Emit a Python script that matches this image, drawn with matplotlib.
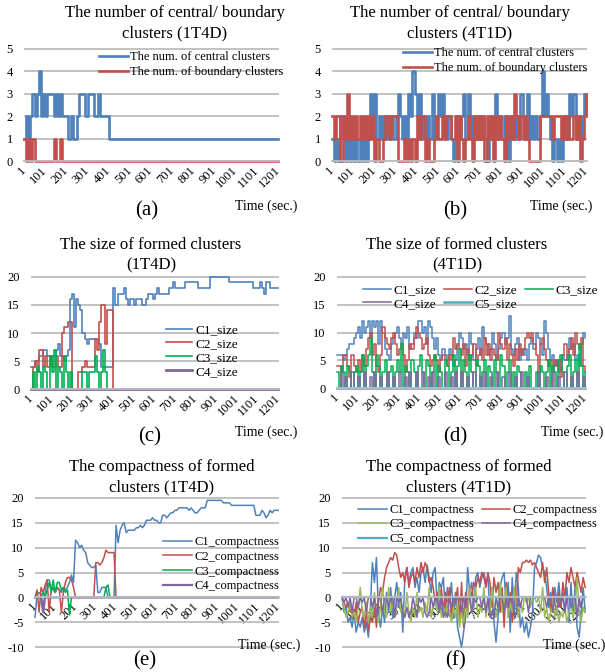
import matplotlib
matplotlib.use('Agg')
import matplotlib.pyplot as plt

plt.rcParams['font.family'] = ['Liberation Serif', 'DejaVu Serif']
plt.rcParams['axes.unicode_minus'] = False

W, H = 605, 672
# time categories (seconds), sampled every 10 s
T = list(range(1, 1202, 10))
XTICKS = [1, 101, 201, 301, 401, 501, 601, 701, 801, 901, 1001, 1101, 1201]
XTICKLABELS = ['1', '101', '201', '301', '401', '501', '601', '701', '801', '901', '1001', '1101', '1201']

# ---------------- (a) 1T4D number of clusters ----------------
central_a = [1, 2, 1, 2, 3, 2, 3, 4, 2, 3,
             2, 3, 3, 3, 2, 3, 2, 3, 2, 2,
             2, 1, 2, 1, 1, 2, 3, 3, 3, 2,
             3, 3, 3, 2, 2, 3, 2, 2, 2, 2,
             1, 1, 1, 1, 1, 1, 1, 1, 1, 1,
             1, 1, 1, 1, 1, 1, 1, 1, 1, 1,
             1, 1, 1, 1, 1, 1, 1, 1, 1, 1,
             1, 1, 1, 1, 1, 1, 1, 1, 1, 1,
             1, 1, 1, 1, 1, 1, 1, 1, 1, 1,
             1, 1, 1, 1, 1, 1, 1, 1, 1, 1,
             1, 1, 1, 1, 1, 1, 1, 1, 1, 1,
             1, 1, 1, 1, 1, 1, 1, 1, 1, 1,
             1]
boundary_a = [1, 0, 1, 0, 1, 0, 0, 0, 0, 0,
              0, 0, 0, 0, 1, 0, 0, 1, 0, 0,
              0, 0, 0, 0, 0, 0, 0, 0, 0, 0,
              0, 0, 0, 0, 0, 0, 0, 0, 0, 0,
              0, 0, 0, 0, 0, 0, 0, 0, 0, 0,
              0, 0, 0, 0, 0, 0, 0, 0, 0, 0,
              0, 0, 0, 0, 0, 0, 0, 0, 0, 0,
              0, 0, 0, 0, 0, 0, 0, 0, 0, 0,
              0, 0, 0, 0, 0, 0, 0, 0, 0, 0,
              0, 0, 0, 0, 0, 0, 0, 0, 0, 0,
              0, 0, 0, 0, 0, 0, 0, 0, 0, 0,
              0, 0, 0, 0, 0, 0, 0, 0, 0, 0,
              0]

# ---------------- (b) 4T1D number of clusters ----------------
central_b = [1, 0, 1, 0, 2, 1, 0, 1, 0, 1,
             0, 1, 0, 1, 0, 1, 0, 1, 3, 2,
             3, 1, 2, 1, 2, 1, 2, 1, 2, 1,
             2, 3, 2, 1, 2, 1, 3, 2, 4, 3,
             2, 3, 1, 2, 1, 2, 1, 3, 1, 2,
             3, 2, 3, 2, 1, 2, 1, 0, 1, 2,
             1, 2, 3, 1, 3, 2, 1, 2, 1, 2,
             1, 2, 1, 0, 1, 2, 1, 3, 1, 2,
             1, 2, 1, 0, 1, 2, 1, 2, 1, 3,
             2, 1, 3, 1, 2, 1, 2, 1, 2, 4,
             2, 3, 2, 1, 0, 1, 0, 1, 0, 1,
             2, 1, 3, 2, 3, 1, 2, 1, 2, 3,
             2]
boundary_b = [2, 1, 2, 2, 0, 2, 1, 3, 1, 2,
              1, 2, 1, 2, 1, 2, 1, 2, 1, 2,
              0, 1, 0, 0, 1, 2, 2, 1, 2, 2,
              2, 0, 0, 0, 1, 0, 1, 0, 1, 0,
              2, 1, 2, 2, 0, 1, 0, 0, 1, 2,
              1, 1, 2, 1, 2, 2, 1, 1, 2, 0,
              2, 1, 0, 1, 2, 1, 0, 2, 1, 2,
              1, 2, 0, 2, 1, 2, 0, 2, 1, 2,
              1, 0, 2, 1, 2, 1, 3, 2, 1, 2,
              1, 2, 1, 0, 0, 0, 0, 0, 2, 2,
              2, 2, 2, 2, 1, 2, 2, 2, 1, 2,
              1, 2, 1, 1, 2, 1, 2, 0, 1, 2,
              3]

# ---------------- (c) 1T4D cluster size ----------------
c1_size_c = [4, 4, 5, 5, 6, 6, 7, 7, 6, 5,
             6, 6, 7, 8, 6, 6, 5, 6, 7, 16,
             17, 11, 16, 15, 14, 10, 9, 8, 9, 9,
             9, 9, 9, 8, 4, 4, 4, 4, 4, 4,
             18, 15, 17, 17, 17, 18, 16, 15, 16, 16,
             15, 16, 16, 16, 15, 15, 16, 17, 17, 16,
             17, 18, 17, 17, 17, 17, 17, 18, 18, 19,
             18, 18, 18, 18, 18, 19, 19, 19, 19, 19,
             19, 18, 18, 18, 18, 18, 18, 20, 20, 20,
             20, 20, 20, 20, 20, 20, 19, 19, 19, 19,
             19, 19, 19, 19, 19, 19, 19, 19, 18, 18,
             18, 19, 18, 17, 19, 19, 18, 18, 18, 18,
             18]
c2_size_c = [0, 4, 5, 3, 7, 7, 4, 6, 4, 6,
             4, 4, 6, 4, 4, 10, 11, 11, 12, 12,
             0, 0, 0, 3, 3, 4, 5, 4, 4, 4,
             4, 9, 7, 12, 15, 15, 8, 14, 14, 14,
             0, 0, 0, 0, 0, 0, 0, 0, 0, 0,
             0, 0, 0, 0, 0, 0, 0, 0, 0, 0,
             0, 0, 0, 0, 0, 0, 0, 0, 0, 0,
             0, 0, 0, 0, 0, 0, 0, 0, 0, 0,
             0, 0, 0, 0, 0, 0, 0, 0, 0, 0,
             0, 0, 0, 0, 0, 0, 0, 0, 0, 0,
             0, 0, 0, 0, 0, 0, 0, 0, 0, 0,
             0, 0, 0, 0, 0, 0, 0, 0, 0, 0,
             0]
c3_size_c = [0, 3, 0, 4, 3, 0, 4, 3, 0, 6,
             3, 7, 0, 4, 3, 0, 6, 3, 0, 3,
             0, 0, 0, 0, 0, 3, 3, 0, 3, 3,
             3, 6, 3, 0, 3, 7, 3, 0, 0, 0,
             0, 0, 0, 0, 0, 0, 0, 0, 0, 0,
             0, 0, 0, 0, 0, 0, 0, 0, 0, 0,
             0, 0, 0, 0, 0, 0, 0, 0, 0, 0,
             0, 0, 0, 0, 0, 0, 0, 0, 0, 0,
             0, 0, 0, 0, 0, 0, 0, 0, 0, 0,
             0, 0, 0, 0, 0, 0, 0, 0, 0, 0,
             0, 0, 0, 0, 0, 0, 0, 0, 0, 0,
             0, 0, 0, 0, 0, 0, 0, 0, 0, 0,
             0]
c4_size_c = [0, 0, 0, 0, 0, 0, 0, 0, 0, 0,
             0, 0, 0, 0, 0, 0, 0, 0, 0, 0,
             0, 0, 0, 0, 0, 0, 0, 0, 0, 0,
             0, 0, 0, 0, 0, 0, 0, 0, 0, 0,
             0, 0, 0, 0, 0, 0, 0, 0, 0, 0,
             0, 0, 0, 0, 0, 0, 0, 0, 0, 0,
             0, 0, 0, 0, 0, 0, 0, 0, 0, 0,
             0, 0, 0, 0, 0, 0, 0, 0, 0, 0,
             0, 0, 0, 0, 0, 0, 0, 0, 0, 0,
             0, 0, 0, 0, 0, 0, 0, 0, 0, 0,
             0, 0, 0, 0, 0, 0, 0, 0, 0, 0,
             0, 0, 0, 0, 0, 0, 0, 0, 0, 0,
             0]

# ---------------- (d) 4T1D cluster size ----------------
c1_size_d = [6, 6, 6, 5, 6, 7, 8, 8, 9, 10,
             11, 9, 12, 10, 11, 12, 9, 12, 11, 12,
             8, 12, 10, 7, 6, 5, 8, 9, 10, 11,
             9, 8, 10, 9, 11, 7, 8, 10, 9, 12,
             12, 10, 11, 8, 12, 11, 9, 7, 9, 6,
             5, 7, 6, 5, 7, 6, 4, 5, 8, 10,
             9, 7, 8, 6, 10, 8, 5, 7, 9, 6,
             11, 9, 8, 6, 7, 10, 8, 5, 7, 9,
             10, 8, 9, 13, 7, 6, 8, 9, 5, 7,
             6, 7, 5, 8, 9, 7, 10, 9, 8, 6,
             12, 10, 7, 5, 6, 4, 5, 3, 5, 6,
             5, 6, 9, 7, 8, 5, 6, 4, 8, 10,
             9]
c2_size_d = [4, 4, 3, 6, 6, 4, 2, 6, 4, 3,
             5, 3, 6, 4, 7, 9, 10, 6, 8, 4,
             3, 6, 11, 9, 8, 7, 9, 10, 8, 6,
             7, 8, 6, 3, 5, 8, 7, 9, 11, 10,
             9, 7, 8, 9, 6, 4, 5, 6, 5, 3,
             5, 6, 5, 4, 6, 5, 9, 7, 8, 7,
             6, 8, 4, 7, 5, 6, 8, 4, 6, 7,
             5, 9, 6, 8, 5, 7, 6, 5, 10, 8,
             7, 9, 5, 8, 6, 4, 7, 5, 8, 6,
             7, 9, 10, 9, 10, 8, 6, 3, 8, 9,
             7, 5, 4, 5, 3, 5, 4, 5, 2, 6,
             8, 5, 7, 9, 6, 10, 8, 7, 9, 4,
             3]
c3_size_d = [3, 0, 4, 3, 0, 4, 3, 0, 3, 4,
             0, 3, 6, 0, 4, 6, 9, 3, 0, 6,
             4, 0, 3, 5, 0, 3, 4, 0, 3, 5,
             3, 8, 0, 4, 3, 0, 5, 3, 0, 4,
             6, 3, 0, 5, 4, 0, 3, 6, 0, 4,
             3, 0, 5, 4, 0, 3, 6, 0, 4, 7,
             0, 5, 3, 0, 6, 3, 0, 5, 4, 0,
             3, 5, 0, 4, 3, 0, 5, 3, 0, 6,
             4, 0, 3, 5, 0, 3, 0, 4, 3, 0,
             0, 3, 0, 4, 0, 0, 3, 0, 4, 3,
             0, 3, 5, 0, 4, 3, 0, 5, 6, 3,
             0, 4, 6, 0, 3, 5, 0, 8, 4, 0,
             3]
c4_size_d = [0, 0, 3, 0, 2, 0, 0, 3, 0, 0,
             2, 0, 0, 3, 0, 0, 2, 0, 3, 0,
             0, 2, 0, 0, 3, 0, 0, 2, 0, 0,
             3, 0, 0, 2, 0, 3, 0, 0, 3, 0,
             0, 3, 0, 0, 2, 0, 3, 0, 0, 2,
             0, 0, 3, 0, 0, 2, 0, 3, 0, 0,
             3, 0, 0, 2, 0, 0, 3, 0, 0, 2,
             0, 3, 0, 0, 2, 0, 0, 3, 0, 0,
             2, 0, 0, 3, 0, 0, 2, 0, 0, 3,
             0, 0, 2, 0, 0, 0, 0, 3, 0, 0,
             0, 2, 0, 0, 3, 0, 0, 2, 0, 0,
             3, 0, 0, 2, 0, 0, 3, 0, 0, 2,
             0]
c5_size_d = [0, 0, 0, 0, 0, 0, 0, 0, 0, 0,
             0, 0, 0, 0, 0, 0, 0, 0, 0, 0,
             0, 0, 0, 0, 0, 0, 0, 0, 0, 0,
             0, 0, 0, 0, 0, 0, 0, 0, 0, 0,
             0, 0, 0, 0, 0, 0, 0, 0, 0, 0,
             0, 0, 0, 0, 0, 0, 0, 0, 0, 0,
             0, 0, 0, 0, 0, 0, 0, 0, 0, 0,
             0, 0, 0, 0, 0, 0, 0, 0, 0, 0,
             0, 0, 0, 0, 0, 0, 0, 0, 0, 0,
             0, 0, 0, 0, 0, 0, 0, 0, 0, 0,
             0, 0, 0, 0, 0, 0, 0, 0, 0, 0,
             0, 0, 0, 0, 0, 0, 0, 0, 0, 0,
             0]

# ---------------- (e) 1T4D compactness ----------------
c1_comp_e = [-4, 0.5, 1, 0.5, -2, 1, 3.5, 3.5, 2, 1.5,
             1, 2, 1.5, 1, 2, 1.5, 2, 3, 4.5, 3,
             11.5, 11, 10, 10.5, 9.5, 9, 7, 6.5, 6, 6,
             6.5, 1, 1, 2, 2, 2, 0, 0, 0, 0,
             14.5, 11, 13.5, 14.5, 15, 13, 13.5, 13.5, 13.5, 13.5,
             14, 14, 14.5, 14, 14.5, 15.5, 15.5, 15.5, 16, 15.5,
             15.5, 15, 15, 16.5, 16.5, 16, 16.5, 17, 17, 17.5,
             17.5, 18, 18, 18, 18, 18, 17.5, 18, 17.5, 17,
             17, 17.5, 18, 18, 18, 19.5, 19.5, 19.5, 19.5, 19.5,
             19.5, 19.5, 19.5, 19, 19, 19, 19, 18.5, 18.5, 18.5,
             18.5, 18.5, 18.5, 18.5, 18.5, 18.5, 18.5, 18.5, 18.5, 16.5,
             16.5, 16.5, 17.5, 17, 16, 16.5, 17.5, 17, 17.5, 17.5,
             17.5]
c2_comp_e = [0, 1.5, -3, 2, 1, 2.5, 3.5, -3, 1.5, 2,
             1, 2, 1.5, -3, 1, 3, 4, 4, 3.5, 2,
             0, 0, 0, 0, 0, 0, 0, 0, 0, 0,
             7, 7, 6.5, 7, 8, 9.5, 9, 9, 9, 9,
             0, 0, 0, 0, 0, 0, 0, 0, 0, 0,
             0, 0, 0, 0, 0, 0, 0, 0, 0, 0,
             0, 0, 0, 0, 0, 0, 0, 0, 0, 0,
             0, 0, 0, 0, 0, 0, 0, 0, 0, 0,
             0, 0, 0, 0, 0, 0, 0, 0, 0, 0,
             0, 0, 0, 0, 0, 0, 0, 0, 0, 0,
             0, 0, 0, 0, 0, 0, 0, 0, 0, 0,
             0, 0, 0, 0, 0, 0, 0, 0, 0, 0,
             0]
c3_comp_e = [0, 0, 0, 0, 1, 0, 1.5, 3, 1, 3.5,
             1, 3, 3, 1.5, 2, 1, 1.5, -3.5, 0, 0,
             0, 0, 0, 0, 0, 0, 0, 0, 0, 0,
             0, 0, 0, 0, 0, 2, 2.5, 0, 0, 0,
             0, 0, 0, 0, 0, 0, 0, 0, 0, 0,
             0, 0, 0, 0, 0, 0, 0, 0, 0, 0,
             0, 0, 0, 0, 0, 0, 0, 0, 0, 0,
             0, 0, 0, 0, 0, 0, 0, 0, 0, 0,
             0, 0, 0, 0, 0, 0, 0, 0, 0, 0,
             0, 0, 0, 0, 0, 0, 0, 0, 0, 0,
             0, 0, 0, 0, 0, 0, 0, 0, 0, 0,
             0, 0, 0, 0, 0, 0, 0, 0, 0, 0,
             0]
c4_comp_e = [0, 0, 0, 0, -3, 0, 0, 0, 0, 0,
             0, 0, 0, 0, 0, 0, 0, 0, 0, 0,
             0, 0, 0, 0, 0, 0, 0, 0, 0, 0,
             0, 0, 0, 0, 0, 0, 0, 0, 0, 0,
             0, 0, 0, 0, 0, 0, 0, 0, 0, 0,
             0, 0, 0, 0, 0, 0, 0, 0, 0, 0,
             0, 0, 0, 0, 0, 0, 0, 0, 0, 0,
             0, 0, 0, 0, 0, 0, 0, 0, 0, 0,
             0, 0, 0, 0, 0, 0, 0, 0, 0, 0,
             0, 0, 0, 0, 0, 0, 0, 0, 0, 0,
             0, 0, 0, 0, 0, 0, 0, 0, 0, 0,
             0, 0, 0, 0, 0, 0, 0, 0, 0, 0,
             0]

# ---------------- (f) 4T1D compactness ----------------
c1_comp_f = [0, -3, -2, -5, -4, -6, -3, -7, -5, -6,
             -4, -7, -5, -8, -2, 7, 3, 8, -3, -6,
             -2, -5, 1, -3, 2, -4, 0, 3, -2, 1,
             -7, 4, 6, 3, 5, 6, 2, 4, 1, 5,
             6, 3, 6.5, 4, 1, 5, 6, -2, 3, 2,
             4, -3, 2, -1, 3, -4, 1, -6, -8, -10,
             -7, -4, 6, 1, 3, -2, 4, 5, 2, 4,
             5, 3, 4, -3, 2, -5, -9, -4, 2, 4,
             5, -2, 3, -7, 4, -3, 5, 2, -6, -4,
             -7, -5, -8, -6, -3, 6, 7, 8.5, 8, 6,
             5, 2, -2, 1, -3, 2, -1, 3, -2, 1,
             -3, 2, -5, 3, -4, 2, -6, -8, -3, 2,
             -3]
c2_comp_f = [0, -1, -2, -1, -3, -2, -4, -1, -5, -3,
             -2, -6, -3, -7, -4, -5, -2, -6, -1, 2,
             1, 4, 6, 7, 8, 7.5, 9, 8.5, 6, 4,
             5, 3, 6, 2, 4, 5, 3, 6, 4, 7,
             5, 7, 6, 3, 4, 2, -1, 1, -2, 2,
             -3, 1, -2, 2, -4, 0, -1, 2, -5, 3,
             -6, 1, -3, 2, 0, 3, 2, 4, 3, 5,
             4, 2, 5, 3, -2, 4, 1, 3, -3, 2,
             -6, 3, -4, 1, -5, 2, -2, 6, 5, 7,
             7, 7.5, 7, 7.5, 6.5, 7, 6, 5, 4, 7,
             3, 6, 1, -3, 2, -1, -3, 1, -2, 3,
             0, 5, 3, 6, 4, 2, 5, 3, 1, 4,
             2]
c3_comp_f = [0, -2, -4, -3, -1, -4, -3, -5, -2, 2,
             -3, -4, -1, -5, -2, -4, 1, -3, -5, -2,
             2, -3, -4, 2, -3, -1, -4, -2, 2, -3,
             -2, -4, 1, -3, -5, -2, -4, 1, -3, -2,
             -4, -1, -3, 2, -4, -2, -1, -3, 2, -4,
             -2, -4, -1, -3, -5, -2, -4, -1, -6, -3,
             -5, -2, -4, 2, -3, -1, 2, -4, -2, -3,
             2, -4, -1, -3, 2, -2, -4, -1, 3, -3,
             -2, 2, -4, -1, -3, 2, -2, -4, -1, -3,
             0, -1, 0, -2, 0, 0, -1, 0, -3, 2,
             -4, -2, -5, -3, -1, -4, -2, -5, -3, -4,
             -2, -5, -3, -1, -4, -2, 4, -3, -5, -2,
             -3]
c4_comp_f = [0, -1, 0, -2, 0, -3, 0, 0, -2, 0,
             -1, 0, -3, 0, 0, -2, 0, -4, 0, 0,
             -3, 0, 0, -2, 0, 0, -4, 0, -1, 0,
             -3, -4, -2, -4, -3, 0, -2, -4, 0, -1,
             0, -3, -4, -3, 0, -2, 0, 0, -3, 0,
             -4, -3, -4, 0, -2, 0, -1, 0, 0, -3,
             0, -2, 0, 0, -3, 0, -1, 0, 0, -2,
             0, -3, 0, -4, -3, -4, 0, -2, 0, 0,
             -3, 0, -2, 0, 0, -4, -3, 0, -2, 0,
             0, 0, -3, 0, 0, 0, 0, 0, 0, 0,
             0, -2, 0, 0, -3, 0, 0, -2, 0, 0,
             -3, 0, 0, -2, 0, 0, -4, 0, -2, 0,
             0]
c5_comp_f = [0, 0, 0, 0, 0, 0, 0, 0, 0, 0,
             0, 0, 0, 0, 0, 0, 0, 0, 0, 0,
             0, 0, 0, 0, 0, 0, 0, 0, 0, 0,
             0, 0, 0, 0, 0, 0, 0, 0, 0, 0,
             0, 0, 0, 0, 0, 0, 0, 0, 0, 0,
             0, 0, 0, 0, 0, 0, 0, 0, 0, 0,
             0, 0, 0, 0, 0, 0, 0, 0, 0, 0,
             0, 0, 0, 0, 0, 0, 0, 0, 0, 0,
             0, 0, 0, 0, 0, 0, 0, 0, 0, 0,
             0, 0, 0, 0, 0, 0, 0, 0, 0, 0,
             0, 0, 0, 0, 0, 0, 0, 0, 0, 0,
             0, 0, 0, 0, 0, 0, 0, 0, 0, 0,
             0]

BLUE = '#4F81BD'
RED = '#C0504D'
GREEN = '#00B050'
PURPLE = '#8064A2'
CYAN = '#4BACC6'
OLIVE = '#9BBB59'
GRID = '#BDBDBD'

fig = plt.figure(figsize=(W / 100, H / 100), dpi=100)


def fx(px):
    return px / W


def fy(py):
    return 1 - py / H


def make_ax(l, t, r, b, ymin, ymax, ystep):
    ax = fig.add_axes([fx(l), fy(b), (r - l) / W, (b - t) / H])
    ax.set_xlim(1, 1205)
    pad = (ymax - ymin) * 0.006
    ax.set_ylim(ymin - pad, ymax + pad)
    ax.set_yticks(list(range(ymin, ymax + 1, ystep)))
    ax.yaxis.grid(True, color=GRID, lw=1.3)
    ax.set_axisbelow(True)
    for s in ['left', 'right', 'top']:
        ax.spines[s].set_visible(False)
    ax.spines['bottom'].set_position(('data', 0))
    ax.spines['bottom'].set_color(GRID)
    ax.spines['bottom'].set_linewidth(1.3)
    ax.set_xticks(XTICKS)
    ax.set_xticklabels(XTICKLABELS, rotation=45, ha='right', va='center',
                       rotation_mode='anchor', fontsize=9)
    ax.tick_params(axis='x', length=0, pad=5)
    ax.tick_params(axis='y', length=0, pad=8, labelsize=9)
    ax.patch.set_alpha(0)
    return ax


def legend(ax, handles, labels, x, y, fs, ncol=1, hl=2.3, ls=0.1, cs=0.8):
    return ax.legend(handles, labels, loc='upper left',
                     bbox_to_anchor=(fx(x), fy(y)), bbox_transform=fig.transFigure,
                     frameon=False, fontsize=fs, ncol=ncol, handlelength=hl,
                     handletextpad=0.2, labelspacing=ls, columnspacing=cs,
                     borderpad=0, borderaxespad=0)


# (a)
ax = make_ax(24, 48, 279, 162, 0, 5, 1)
la1, = ax.plot(T, central_a, color=BLUE, lw=1.9, drawstyle='steps-post', clip_on=False)
la2, = ax.plot(T, boundary_a, color=RED, lw=1.9, drawstyle='steps-post', clip_on=False)
legend(ax, [la1, la2], ['The num. of central clusters', 'The num. of boundary clusters'],
       99, 51, 9, ls=0.25)

# (b)
ax = make_ax(332, 48, 587, 162, 0, 5, 1)
lb1, = ax.plot(T, central_b, color=BLUE, lw=1.9, drawstyle='steps-post', clip_on=False)
lb2, = ax.plot(T, boundary_b, color=RED, lw=1.9, drawstyle='steps-post', clip_on=False)
legend(ax, [lb1, lb2], ['The num. of central clusters', 'The num. of boundary clusters'],
       403, 47, 9, ls=0.25)

# (c)
ax = make_ax(31, 276, 279, 390, 0, 20, 5)
h = []
for vals, col, lw in [(c1_size_c, BLUE, 1.2), (c2_size_c, RED, 1.2),
                      (c3_size_c, GREEN, 1.2), (c4_size_c, PURPLE, 2.0)]:
    ln, = ax.plot(T, vals, color=col, lw=lw, drawstyle='steps-post', clip_on=False)
    h.append(ln)
legend(ax, h, ['C1_size', 'C2_size', 'C3_size', 'C4_size'], 166, 324, 9.5, hl=2.0, ls=0.12)

# (d)
ax = make_ax(337, 276, 586, 389, 0, 20, 5)
h = []
for vals, col, lw in [(c1_size_d, BLUE, 1.1), (c2_size_d, RED, 1.1),
                      (c3_size_d, GREEN, 1.1), (c4_size_d, PURPLE, 1.1),
                      (c5_size_d, CYAN, 1.8)]:
    ln, = ax.plot(T, vals, color=col, lw=lw, drawstyle='steps-post', clip_on=False)
    h.append(ln)
legend(ax, [h[0], h[3], h[1], h[4], h[2]],
       ['C1_size', 'C4_size', 'C2_size', 'C5_size', 'C3_size'],
       363, 284, 9.5, ncol=3, hl=2.1, ls=0.1, cs=0.6)

# (e)
ax = make_ax(35, 497, 279, 648, -10, 20, 5)
h = []
for vals, col, lw in [(c1_comp_e, BLUE, 1.1), (c2_comp_e, RED, 1.1),
                      (c3_comp_e, GREEN, 1.1), (c4_comp_e, PURPLE, 1.6)]:
    ln, = ax.plot(T, vals, color=col, lw=lw, clip_on=False)
    h.append(ln)
legend(ax, h, ['C1_compactness', 'C2_compactness', 'C3_compactness', 'C4_compactness'],
       163, 536, 9, hl=2.3, ls=0.22)

# (f)
ax = make_ax(342, 497, 586, 648, -10, 20, 5)
h = []
for vals, col, lw in [(c1_comp_f, BLUE, 1.1), (c2_comp_f, RED, 1.1),
                      (c3_comp_f, OLIVE, 1.1), (c4_comp_f, PURPLE, 1.1),
                      (c5_comp_f, CYAN, 1.6)]:
    ln, = ax.plot(T, vals, color=col, lw=lw, clip_on=False)
    h.append(ln)
legend(ax, [h[0], h[2], h[4], h[1], h[3]],
       ['C1_compactness', 'C3_compactness', 'C5_compactness', 'C2_compactness', 'C4_compactness'],
       358, 504, 9, ncol=2, hl=2.3, ls=0.2, cs=0.6)

# titles
TFS = 12
titles = [
    (175, 13, 'The number of central/ boundary'), (175, 33, 'clusters (1T4D)'),
    (460, 13, 'The number of central/ boundary'), (460, 33, 'clusters (4T1D)'),
    (151, 245, 'The size of formed clusters'), (151, 265, '(1T4D)'),
    (457, 245, 'The size of formed clusters'), (457, 265, '(4T1D)'),
    (162, 467, 'The compactness of formed'), (162, 487, 'clusters (1T4D)'),
    (459, 467, 'The compactness of formed'), (459, 487, 'clusters (4T1D)'),
]
for x, y, s in titles:
    fig.text(fx(x), fy(y), s, ha='center', va='center', fontsize=TFS)

# axis titles
for x, y in [(297, 206), (592, 206), (297, 432), (603, 432), (300, 645), (605, 645)]:
    fig.text(fx(x), fy(y), 'Time (sec.)', ha='right', va='center', fontsize=10)

# panel labels
for x, y, s in [(147, 211, '(a)'), (455, 211, '(b)'), (150, 437, '(c)'),
                (455, 437, '(d)'), (145, 661, '(e)'), (455, 661, '(f)')]:
    fig.text(fx(x), fy(y), s, ha='center', va='center', fontsize=15)

fig.savefig('out.png', dpi=100)
